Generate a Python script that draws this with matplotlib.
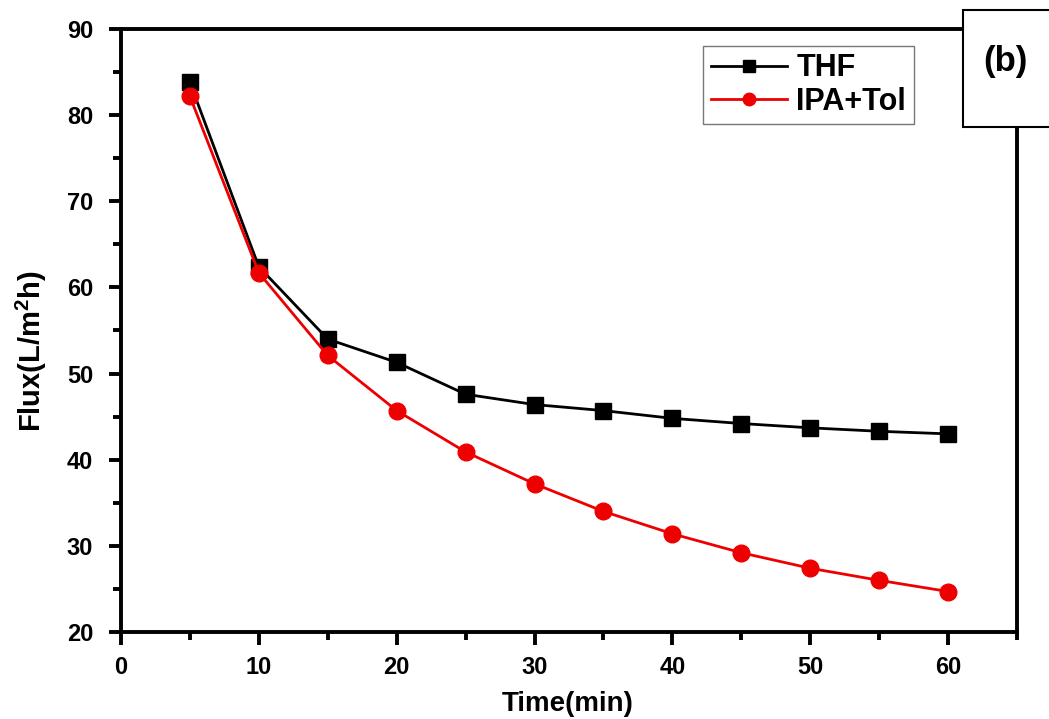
import matplotlib
matplotlib.use("Agg")
import matplotlib.pyplot as plt
from matplotlib.patches import Rectangle
from matplotlib.ticker import MultipleLocator

time_min = [5, 10, 15, 20, 25, 30, 35, 40, 45, 50, 55, 60]
flux_thf = [83.8, 62.4, 54.0, 51.3, 47.6, 46.4, 45.7, 44.8, 44.2, 43.7, 43.3, 43.0]
flux_ipa_tol = [82.2, 61.7, 52.1, 45.7, 40.9, 37.2, 34.0, 31.4, 29.2, 27.4, 26.0, 24.7]

plt.rcParams['font.family'] = ['Liberation Sans', 'DejaVu Sans']
plt.rcParams['font.weight'] = 'bold'
plt.rcParams['mathtext.fontset'] = 'custom'
plt.rcParams['mathtext.bf'] = 'Liberation Sans:bold'
plt.rcParams['mathtext.rm'] = 'Liberation Sans:bold'

fig = plt.figure(figsize=(10.49, 7.19), dpi=100)
ax = fig.add_axes([0.1153, 0.121, 0.8542, 0.8387])

ax.plot(time_min, flux_thf, color='black', lw=2, marker='s', ms=11, label='THF')
ax.plot(time_min, flux_ipa_tol, color='#ee0000', lw=2, marker='o', ms=12, label='IPA+Tol')

ax.set_xlim(0, 65)
ax.set_ylim(20, 90)
ax.xaxis.set_major_locator(MultipleLocator(10))
ax.xaxis.set_minor_locator(MultipleLocator(5))
ax.yaxis.set_major_locator(MultipleLocator(10))
ax.yaxis.set_minor_locator(MultipleLocator(5))
ax.tick_params(which='major', direction='out', length=9, width=2.8, labelsize=17)
ax.tick_params(axis='x', which='major', pad=8)
ax.tick_params(axis='y', which='major', pad=11)
ax.tick_params(which='minor', direction='out', length=6, width=2.8)
for lab in ax.get_xticklabels() + ax.get_yticklabels():
    lab.set_fontweight('bold')
for sp in ax.spines.values():
    sp.set_linewidth(2.8)

ax.set_xlabel('Time(min)', fontsize=20, fontweight='bold')
ax.set_ylabel(r'Flux(L/m$^{\mathbf{2}}$h)', fontsize=21, fontweight='bold')
ax.xaxis.set_label_coords(0.499, -0.12)
ax.yaxis.set_label_coords(-0.10, 0.465)
ax.xaxis.label.set_va('center')
ax.yaxis.label.set_va('center')

leg = ax.legend(loc='upper left', bbox_to_anchor=(0.6495, 0.972), fontsize=22,
                frameon=True, fancybox=False, edgecolor='#555555', markerscale=0.75,
                handlelength=2.5, borderpad=0.25, labelspacing=0.1, handletextpad=0.3,
                borderaxespad=0)
leg.get_frame().set_linewidth(1)
for t in leg.get_texts():
    t.set_fontweight('bold')

box = Rectangle((963 / 1049, 1 - 127 / 719), 0.2, 117 / 719, transform=fig.transFigure,
                facecolor='white', edgecolor='black', lw=1.5, zorder=10, clip_on=False)
fig.patches.append(box)
fig.text(1005 / 1049, 1 - 62 / 719, '(b)', fontsize=25, fontweight='bold',
         ha='center', va='center', zorder=11)

fig.savefig('out.png', dpi=100)
